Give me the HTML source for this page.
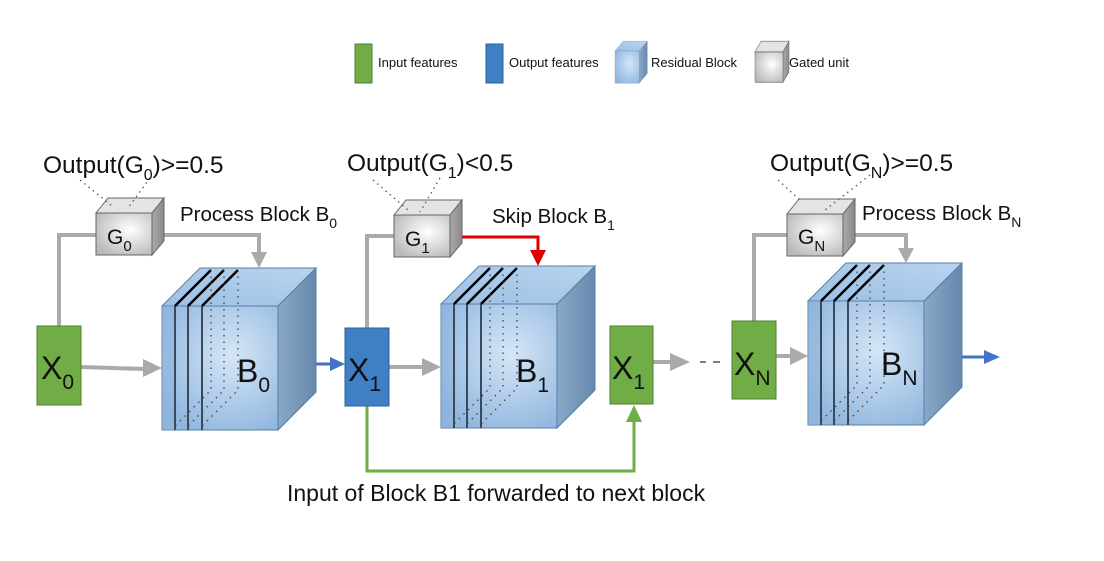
<!DOCTYPE html>
<html><head><meta charset="utf-8"><style>
html,body{margin:0;padding:0;background:#fff}
svg{display:block}
text{font-family:"Liberation Sans",sans-serif;fill:#111}
</style></head><body>
<svg width="1104" height="561" viewBox="0 0 1104 561" xmlns="http://www.w3.org/2000/svg">
<defs>
<radialGradient id="bf" cx="0.6" cy="0.4" r="0.7"><stop offset="0" stop-color="#d6e6f7"/><stop offset="1" stop-color="#8fb6de"/></radialGradient>
<linearGradient id="bt" x1="0" y1="1" x2="1" y2="0"><stop offset="0" stop-color="#9cc0e4"/><stop offset="1" stop-color="#b9d3ee"/></linearGradient>
<linearGradient id="bs" x1="0" y1="0" x2="1" y2="0"><stop offset="0" stop-color="#8aa9c8"/><stop offset="1" stop-color="#6688ad"/></linearGradient>
<radialGradient id="gf" cx="0.6" cy="0.4" r="0.7"><stop offset="0" stop-color="#ffffff"/><stop offset="1" stop-color="#b9b9b9"/></radialGradient>
<linearGradient id="gs" x1="0" y1="0" x2="1" y2="0"><stop offset="0" stop-color="#aaa"/><stop offset="1" stop-color="#8a8a8a"/></linearGradient>
<g id="plain">
<polygon points="0,0 38,-38 154,-38 116,0" fill="url(#bt)" stroke="#5a7ea6" stroke-width="1"/>
<polygon points="116,0 154,-38 154,86 116,124" fill="url(#bs)" stroke="#5a7ea6" stroke-width="1"/>
<rect x="0" y="0" width="116" height="124" fill="url(#bf)" stroke="#5a7ea6" stroke-width="1"/>
</g>
<g id="cube">
<use href="#plain"/>
<rect x="0" y="0" width="13" height="124" fill="#8fb4dc" opacity="0.5"/>
<g stroke="#3a4a5c" stroke-width="2">
<line x1="13" y1="0" x2="13" y2="124"/><line x1="26" y1="0" x2="26" y2="124"/><line x1="40" y1="0" x2="40" y2="124"/>
</g>
<g stroke="#000" stroke-width="2.5">
<line x1="13" y1="0" x2="49" y2="-36"/><line x1="26" y1="0" x2="62" y2="-36"/><line x1="40" y1="0" x2="76" y2="-36"/>
</g>
<g stroke="#444" stroke-width="1.3" stroke-dasharray="1.5,5" fill="none">
<polyline points="49,-36 49,84 13,120"/><polyline points="62,-36 62,84 26,120"/><polyline points="76,-36 76,84 40,120"/>
</g>
</g>
<g id="gate">
<polygon points="0,0 12,-15 68,-15 56,0" fill="#e4e4e4" stroke="#666" stroke-width="1"/>
<polygon points="56,0 68,-15 68,28 56,42" fill="url(#gs)" stroke="#666" stroke-width="1"/>
<rect x="0" y="0" width="56" height="42" fill="url(#gf)" stroke="#666" stroke-width="1"/>
</g>
</defs>

<!-- Legend -->
<rect x="355" y="44" width="17" height="39" fill="#70ad47" stroke="#507e32"/>
<text x="378" y="67" font-size="13">Input features</text>
<rect x="486" y="44" width="17" height="39" fill="#3f7fc6" stroke="#2e5f94"/>
<text x="509" y="67" font-size="13">Output features</text>
<g transform="translate(615,51) scale(0.21,0.26)"><use href="#plain"/></g>
<text x="651" y="67" font-size="13">Residual Block</text>
<g transform="translate(755,52) scale(0.5,0.72)"><use href="#gate"/></g>
<text x="789" y="67" font-size="13">Gated unit</text>

<!-- gray connectors -->
<g stroke="#aaa" stroke-width="4" fill="none">
<polyline points="59,326 59,235 96,235"/>
<polyline points="152,235 259,235 259,255"/>
<line x1="81" y1="367" x2="145" y2="369"/>
<polyline points="367,328 367,236 394,236"/>
<line x1="389" y1="367" x2="425" y2="367"/>
<line x1="653" y1="362" x2="672" y2="362"/>
<polyline points="754,321 754,235 787,235"/>
<polyline points="842,235 906,235 906,250"/>
<line x1="776" y1="356" x2="792" y2="356"/>
</g>
<g fill="#aaa">
<polygon points="251,252 267,252 259,268"/>
<polygon points="143,359 162,368 143,377"/>
<polygon points="422,358 441,367 422,376"/>
<polygon points="670,353 690,362 670,371"/>
<polygon points="898,248 914,248 906,263"/>
<polygon points="790,347 808,356 790,365"/>
</g>
<g stroke="#555" stroke-width="1.5"><line x1="700" y1="362" x2="706" y2="362"/><line x1="713" y1="362" x2="720" y2="362"/></g>

<!-- blue arrows -->
<line x1="303" y1="364" x2="332" y2="364" stroke="#4472c4" stroke-width="3"/>
<polygon points="330,357 345,364 330,371" fill="#4472c4"/>
<line x1="949" y1="357" x2="986" y2="357" stroke="#4472c4" stroke-width="3"/>
<polygon points="984,350 1000,357 984,364" fill="#4472c4"/>

<!-- red skip -->
<polyline points="446,237 538,237 538,252" stroke="#d00" stroke-width="3" fill="none"/>
<polygon points="530,250 546,250 538,266" fill="#d00"/>

<!-- green forward -->
<polyline points="367,406 367,471 634,471 634,420" stroke="#70ad47" stroke-width="3" fill="none"/>
<polygon points="626,422 642,422 634,405" fill="#70ad47"/>

<!-- cubes -->
<g transform="translate(162,306)"><use href="#cube"/></g>
<g transform="translate(441,304)"><use href="#cube"/></g>
<g transform="translate(808,301)"><use href="#cube"/></g>

<!-- gates -->
<g transform="translate(96,213)"><use href="#gate"/></g>
<g transform="translate(394,215)"><use href="#gate"/></g>
<g transform="translate(787,214)"><use href="#gate"/></g>

<!-- dotted lines from labels -->
<g stroke="#555" stroke-width="1.3" stroke-dasharray="1.5,4" fill="none">
<line x1="80" y1="180" x2="112" y2="206"/><line x1="150" y1="178" x2="128" y2="208"/>
<line x1="373" y1="180" x2="408" y2="210"/><line x1="440" y1="178" x2="420" y2="212"/>
<line x1="778" y1="180" x2="802" y2="202"/><line x1="870" y1="175" x2="825" y2="210"/>
</g>

<!-- boxes -->
<rect x="37" y="326" width="44" height="79" fill="#70ad47" stroke="#507e32"/>
<rect x="345" y="328" width="44" height="78" fill="#3f7fc6" stroke="#2e5f94"/>
<rect x="610" y="326" width="43" height="78" fill="#70ad47" stroke="#507e32"/>
<rect x="732" y="321" width="44" height="78" fill="#70ad47" stroke="#507e32"/>

<!-- labels -->
<g font-size="32">
<text x="41" y="379">X<tspan font-size="21" dy="10">0</tspan></text>
<text x="348" y="381">X<tspan font-size="21" dy="10">1</tspan></text>
<text x="612" y="379">X<tspan font-size="21" dy="10">1</tspan></text>
<text x="734" y="375">X<tspan font-size="21" dy="10">N</tspan></text>
<text x="237" y="382">B<tspan font-size="21" dy="10">0</tspan></text>
<text x="516" y="382">B<tspan font-size="21" dy="10">1</tspan></text>
<text x="881" y="375">B<tspan font-size="21" dy="10">N</tspan></text>
</g>
<text x="107" y="244" font-size="21">G<tspan font-size="15" dy="7">0</tspan></text>
<text x="405" y="246" font-size="21">G<tspan font-size="15" dy="7">1</tspan></text>
<text x="798" y="244" font-size="21">G<tspan font-size="15" dy="7">N</tspan></text>

<g font-size="24.5">
<text x="43" y="173">Output(G<tspan font-size="16" dy="7">0</tspan><tspan dy="-7">)&gt;=0.5</tspan></text>
<text x="347" y="171">Output(G<tspan font-size="16" dy="7">1</tspan><tspan dy="-7">)&lt;0.5</tspan></text>
<text x="770" y="171">Output(G<tspan font-size="16" dy="7">N</tspan><tspan dy="-7">)&gt;=0.5</tspan></text>
</g>
<g font-size="20.5">
<text x="180" y="221">Process Block B<tspan font-size="14" dy="7">0</tspan></text>
<text x="492" y="223">Skip Block B<tspan font-size="14" dy="7">1</tspan></text>
<text x="862" y="220">Process Block B<tspan font-size="14" dy="7">N</tspan></text>
</g>
<text x="287" y="501" font-size="23">Input of Block B1 forwarded to next block</text>
</svg>
</body></html>
